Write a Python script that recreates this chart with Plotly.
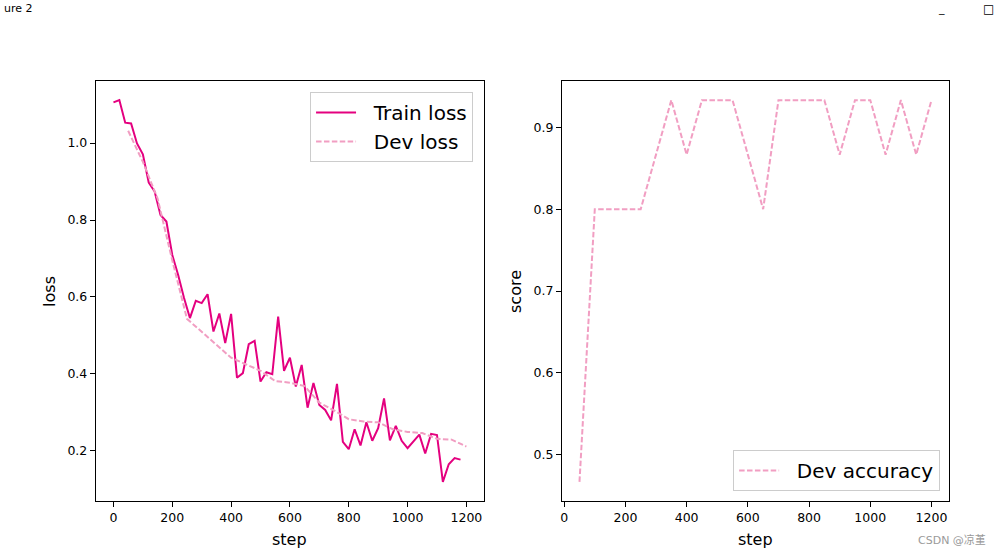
import plotly.graph_objects as go

# ---------------- data ----------------
train_steps = list(range(0, 1200, 20))
train_loss = [1.106, 1.112, 1.053, 1.051, 0.999, 0.971, 0.897, 0.874, 0.813, 0.796,
              0.709, 0.657, 0.597, 0.545, 0.590, 0.584, 0.607, 0.510, 0.557, 0.480,
              0.556, 0.390, 0.402, 0.477, 0.486, 0.380, 0.404, 0.399, 0.549, 0.408,
              0.442, 0.367, 0.423, 0.312, 0.376, 0.319, 0.306, 0.279, 0.374, 0.223,
              0.204, 0.256, 0.214, 0.274, 0.226, 0.259, 0.336, 0.227, 0.265, 0.226,
              0.207, 0.225, 0.242, 0.193, 0.244, 0.241, 0.119, 0.165, 0.181, 0.177]

dev_steps = list(range(50, 1250, 50))
dev_loss = [1.032, 0.951, 0.856, 0.695, 0.543, 0.510, 0.477, 0.442, 0.425, 0.408,
            0.381, 0.377, 0.368, 0.325, 0.305, 0.282, 0.276, 0.274, 0.256, 0.249,
            0.246, 0.231, 0.229, 0.211]
dev_acc = [0.4667, 0.8, 0.8, 0.8, 0.8, 0.8667, 0.9333, 0.8667, 0.9333, 0.9333,
           0.9333, 0.8667, 0.8, 0.9333, 0.9333, 0.9333, 0.9333, 0.8667, 0.9333, 0.9333,
           0.8667, 0.9333, 0.8667, 0.9333]

x_ticks = [0, 200, 400, 600, 800, 1000, 1200]
loss_ticks = [0.2, 0.4, 0.6, 0.8, 1.0]
score_ticks = [0.5, 0.6, 0.7, 0.8, 0.9]

TRAIN_COLOR = "#e4007f"
DEV_COLOR = "#f19ec2"
FONT = "DejaVu Sans"
PAD = "\u00a0\u00a0"

W, H = 1002, 555

fig = go.Figure()
fig.add_trace(go.Scatter(x=train_steps, y=train_loss, mode="lines", name=PAD + "Train loss",
                         line=dict(color=TRAIN_COLOR, width=2), xaxis="x", yaxis="y",
                         legend="legend"))
fig.add_trace(go.Scatter(x=dev_steps, y=dev_loss, mode="lines", name=PAD + "Dev loss",
                         line=dict(color=DEV_COLOR, width=2, dash="5.5px,2.4px"),
                         xaxis="x", yaxis="y", legend="legend"))
fig.add_trace(go.Scatter(x=dev_steps, y=dev_acc, mode="lines", name=PAD + "Dev accuracy",
                         line=dict(color=DEV_COLOR, width=2, dash="5.5px,2.4px"),
                         xaxis="x2", yaxis="y2", legend="legend2"))

def px_x(p):
    return p / W

def px_y(p):
    return 1 - p / H

axis_common = dict(showline=True, mirror=True, linecolor="black", linewidth=1,
                   ticks="outside", ticklen=5, tickwidth=1, tickcolor="black",
                   showgrid=False, zeroline=False,
                   tickfont=dict(family=FONT, size=12.5, color="black"))

fig.update_layout(
    width=W, height=H,
    margin=dict(l=0, r=0, t=0, b=0),
    paper_bgcolor="white", plot_bgcolor="white",
    font=dict(family=FONT, color="black"),
    xaxis=dict(domain=[px_x(94), px_x(483)], range=[-60, 1260], tickvals=x_ticks,
               anchor="y", **axis_common),
    yaxis=dict(domain=[px_y(501), px_y(81)], range=[0.0694, 1.1614], tickvals=loss_ticks,
               tickformat=".1f", anchor="x", **axis_common),
    xaxis2=dict(domain=[px_x(561), px_x(949)], range=[-7.5, 1257.5], tickvals=x_ticks,
                anchor="y2", **axis_common),
    yaxis2=dict(domain=[px_y(501), px_y(81)], range=[0.4433, 0.9567], tickvals=score_ticks,
                tickformat=".1f", anchor="x2", **axis_common),
    legend=dict(x=px_x(472), y=px_y(92), xanchor="right", yanchor="top",
                bgcolor="white", bordercolor="#cccccc", borderwidth=1,
                font=dict(family=FONT, size=20, color="black"), itemwidth=40),
    legend2=dict(x=px_x(940), y=px_y(491), xanchor="right", yanchor="bottom",
                 bgcolor="white", bordercolor="#cccccc", borderwidth=1,
                 font=dict(family=FONT, size=20, color="black"), itemwidth=40),
    showlegend=True,
)

annos = [
    dict(text="step", x=px_x(288.5), y=px_y(539), xanchor="center", yanchor="middle",
         font=dict(size=16)),
    dict(text="step", x=px_x(755), y=px_y(539), xanchor="center", yanchor="middle",
         font=dict(size=16)),
    dict(text="loss", x=px_x(47), y=px_y(291), xanchor="center", yanchor="middle",
         textangle=-90, font=dict(size=16)),
    dict(text="score", x=px_x(514), y=px_y(291), xanchor="center", yanchor="middle",
         textangle=-90, font=dict(size=16)),
    dict(text="CSDN @凉堇", x=px_x(988), y=px_y(540), xanchor="right", yanchor="middle",
         font=dict(size=11, color="#9a9a9a", family="DejaVu Sans, Noto Sans CJK SC")),
    dict(text="ure 2", x=0, y=1, xanchor="left", yanchor="top",
         font=dict(size=11, color="black")),
    dict(text="_", x=px_x(941), y=1, xanchor="center", yanchor="top",
         font=dict(size=11, color="black")),
    dict(text="□", x=px_x(988), y=1, xanchor="center", yanchor="top",
         font=dict(size=12, color="black")),
]
for a in annos:
    a.update(xref="paper", yref="paper", showarrow=False)
    fig.add_annotation(**a)

fig.write_html("out.html")
